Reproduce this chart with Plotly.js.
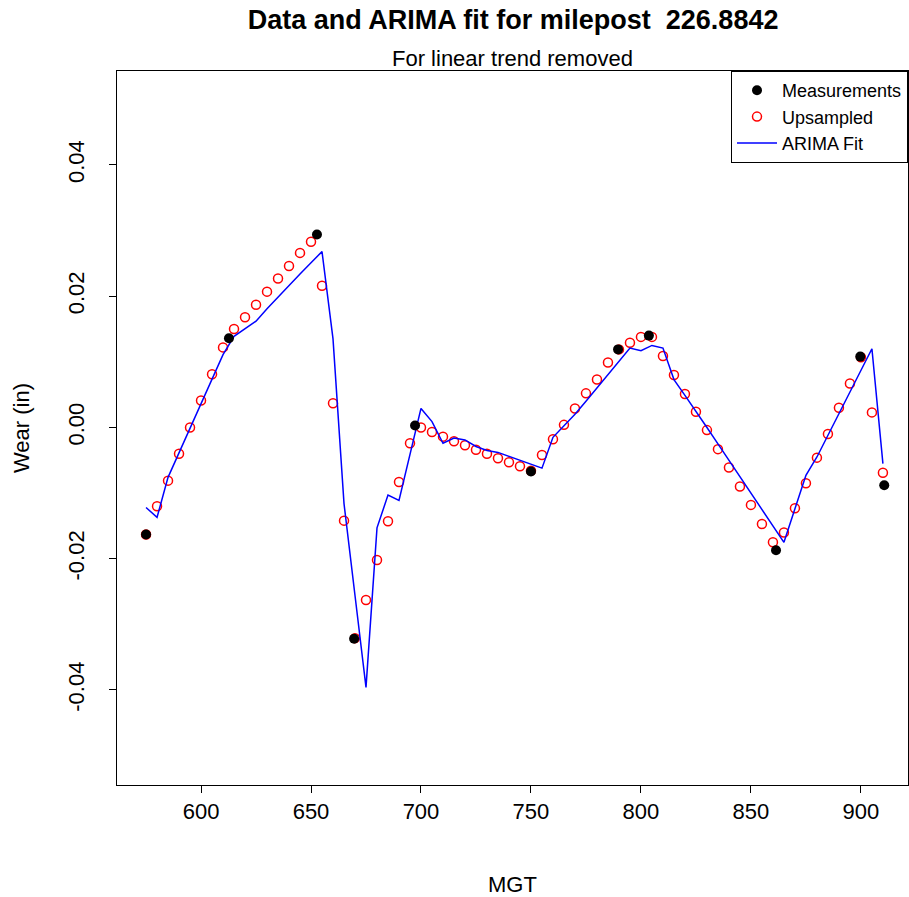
<!DOCTYPE html>
<html>
<head>
<meta charset="utf-8">
<script src="https://cdn.plot.ly/plotly-3.0.1.min.js"></script>
<style>
  html, body { margin: 0; padding: 0; background: #ffffff; }
  #chart { width: 909px; height: 897px; }
</style>
</head>
<body>
<div id="chart"></div>
<script>
// Measured wear at the survey MGT values
const measX = [575.0, 612.7, 652.7, 669.6, 697.3, 750.0, 789.6, 803.6, 861.4, 899.7, 910.6];
const measY = [-0.0163, 0.0136, 0.0294, -0.0322, 0.0003, -0.0067, 0.0119, 0.0140, -0.0187, 0.0108, -0.0088];

// Series resampled onto a regular 5 MGT grid
const gridX = [575, 580, 585, 590, 595, 600, 605, 610, 615, 620,
               625, 630, 635, 640, 645, 650, 655, 660, 665, 670,
               675, 680, 685, 690, 695, 700, 705, 710, 715, 720,
               725, 730, 735, 740, 745, 750, 755, 760, 765, 770,
               775, 780, 785, 790, 795, 800, 805, 810, 815, 820,
               825, 830, 835, 840, 845, 850, 855, 860, 865, 870,
               875, 880, 885, 890, 895, 900, 905, 910];
const upY = [-0.0163, -0.0120, -0.0081, -0.0040, 0.0000, 0.0041, 0.0081, 0.0122, 0.0150, 0.0168,
             0.0187, 0.0207, 0.0227, 0.0246, 0.0266, 0.0283, 0.0216, 0.0037, -0.0142, -0.0321,
             -0.0263, -0.0202, -0.0143, -0.0083, -0.0024, 0.0000, -0.0007, -0.0014, -0.0021, -0.0027,
             -0.0034, -0.0040, -0.0047, -0.0053, -0.0059, -0.0066, -0.0042, -0.0018, 0.0004, 0.0029,
             0.0052, 0.0073, 0.0099, 0.0119, 0.0129, 0.0138, 0.0138, 0.0109, 0.0080, 0.0051,
             0.0024, -0.0004, -0.0033, -0.0061, -0.0090, -0.0118, -0.0147, -0.0175, -0.0160, -0.0123,
             -0.0085, -0.0046, -0.0010, 0.0030, 0.0067, 0.0107, 0.0023, -0.0069];

// ARIMA fitted values on the same grid
const fitY = [-0.0122, -0.0137, -0.0076, -0.0039, -0.0001, 0.0036, 0.0074, 0.0111, 0.0139, 0.0150,
              0.0162, 0.0181, 0.0199, 0.0216, 0.0234, 0.0251, 0.0268, 0.0135, -0.0116, -0.0256,
              -0.0396, -0.0153, -0.0103, -0.0111, -0.0041, 0.0029, 0.0009, -0.0024, -0.0016, -0.0019,
              -0.0029, -0.0035, -0.0038, -0.0044, -0.0050, -0.0056, -0.0062, -0.0015, 0.0003, 0.0020,
              0.0040, 0.0060, 0.0081, 0.0101, 0.0121, 0.0117, 0.0125, 0.0121, 0.0073, 0.0049,
              0.0025, 0.0000, -0.0025, -0.0050, -0.0075, -0.0100, -0.0125, -0.0150, -0.0175, -0.0124,
              -0.0073, -0.0045, -0.0012, 0.0021, 0.0054, 0.0087, 0.0120, -0.0055];

const xTicks = [600, 650, 700, 750, 800, 850, 900];
const yTicks = [-0.04, -0.02, 0.00, 0.02, 0.04];
const yTickText = ['-0.04', '-0.02', '0.00', '0.02', '0.04'];

const FONT = 'Liberation Sans, Arial, sans-serif';

const traces = [
  {
    x: gridX, y: upY, type: 'scatter', mode: 'markers', name: 'Upsampled',
    legendrank: 2,
    marker: { symbol: 'circle-open', size: 9, color: '#ff0000', line: { width: 1.5, color: '#ff0000' } }
  },
  {
    x: gridX, y: fitY, type: 'scatter', mode: 'lines', name: 'ARIMA Fit',
    legendrank: 3,
    line: { color: '#0000ff', width: 1.5 }
  },
  {
    x: measX, y: measY, type: 'scatter', mode: 'markers', name: 'Measurements',
    legendrank: 1,
    marker: { symbol: 'circle', size: 10, color: '#000000' }
  }
];

const layout = {
  width: 909, height: 897,
  margin: { l: 117, r: 1, t: 71, b: 112 },
  paper_bgcolor: '#ffffff', plot_bgcolor: '#ffffff',
  font: { family: FONT, color: '#000000', size: 22 },
  title: {
    text: '<b>Data and ARIMA fit for milepost  226.8842</b>',
    font: { family: FONT, size: 27, color: '#000000' },
    x: 0.5645, xanchor: 'center', y: 0.978, yanchor: 'middle'
  },
  annotations: [{
    text: 'For linear trend removed', xref: 'paper', yref: 'paper',
    x: 0.5, y: 1, xanchor: 'center', yanchor: 'bottom', yshift: -2,
    showarrow: false, font: { family: FONT, size: 22, color: '#000000' }
  }],
  xaxis: {
    range: [561.8, 921.4], tickvals: xTicks, ticktext: xTicks.map(String),
    ticks: 'outside', ticklen: 7, tickwidth: 1, tickcolor: '#000000',
    showline: true, mirror: true, linecolor: '#000000', linewidth: 1,
    showgrid: false, zeroline: false,
    tickfont: { family: FONT, size: 22 },
    title: { text: 'MGT', font: { family: FONT, size: 22 }, standoff: 56 }
  },
  yaxis: {
    range: [-0.05448, 0.05432], tickvals: yTicks, ticktext: yTickText,
    ticks: 'outside', ticklen: 7, tickwidth: 1, tickcolor: '#000000',
    showline: true, mirror: true, linecolor: '#000000', linewidth: 1,
    showgrid: false, zeroline: false, tickangle: -90,
    tickfont: { family: FONT, size: 22 }, ticklabelstandoff: 16,
    title: { text: 'Wear (in)', font: { family: FONT, size: 22 }, standoff: 28 }
  },
  legend: {
    x: 1, y: 1, xanchor: 'right', yanchor: 'top',
    bgcolor: '#ffffff', bordercolor: '#000000', borderwidth: 1,
    font: { family: FONT, size: 18, color: '#000000' },
    itemwidth: 40, tracegroupgap: 0
  },
  showlegend: true
};

Plotly.newPlot('chart', traces, layout, { staticPlot: true, displayModeBar: false });
</script>
</body>
</html>
